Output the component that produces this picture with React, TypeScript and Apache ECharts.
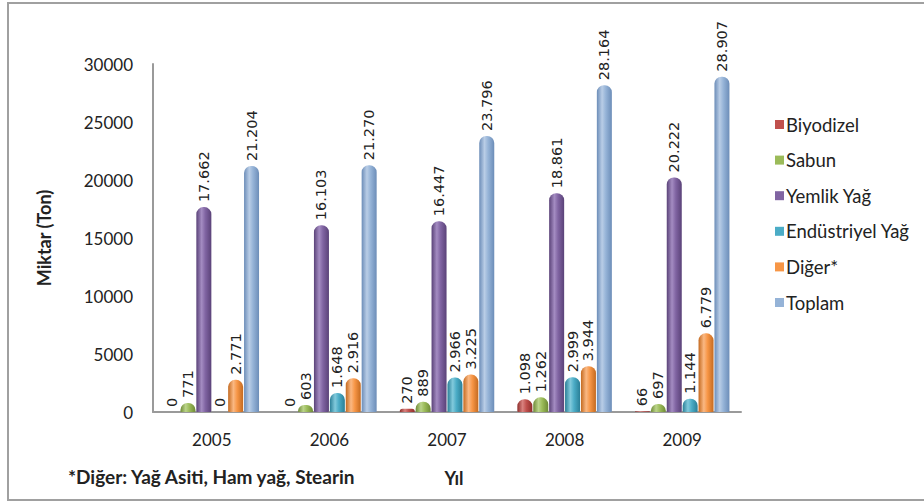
import React, { useEffect, useRef } from "react";
import * as echarts from "echarts";

const years = ["2005", "2006", "2007", "2008", "2009"];
const biyodizel = [0, 0, 270, 1098, 66];
const sabun = [771, 603, 889, 1262, 697];
const yemlik = [17662, 16103, 16447, 18861, 20222];
const endustriyel = [0, 1648, 2966, 2999, 1144];
const diger = [2771, 2916, 3225, 3944, 6779];
const toplam = [21204, 21270, 23796, 28164, 28907];

const seriesDefs = [
  { name: "Biyodizel", data: biyodizel, color: "#C0504D", dark: "#8E2E2B", light: "#D9827F" },
  { name: "Sabun", data: sabun, color: "#9BBB59", dark: "#6E8A36", light: "#BBD48A" },
  { name: "Yemlik Yağ", data: yemlik, color: "#8064A2", dark: "#5A4278", light: "#A48CC2" },
  { name: "Endüstriyel Yağ", data: endustriyel, color: "#4BACC6", dark: "#2A7F97", light: "#82CADC" },
  { name: "Diğer*", data: diger, color: "#F79646", dark: "#C46A20", light: "#FAB883" },
  { name: "Toplam", data: toplam, color: "#95B3D7", dark: "#6C8DB8", light: "#B9CDE6" },
];

function fmt(v: number): string {
  return v.toString().replace(/\B(?=(\d{3})+(?!\d))/g, ".");
}

export default function App() {
  const ref = useRef<HTMLDivElement>(null);
  useEffect(() => {
    if (!ref.current) return;
    const chart = echarts.init(ref.current, null, { renderer: "svg" });
    const font = "Lato, 'Open Sans', sans-serif";
    chart.setOption({
      animation: false,
      backgroundColor: "#ffffff",
      grid: { left: 153, right: 183, top: 64, bottom: 90, containLabel: false },
      legend: {
        orient: "vertical",
        left: 770,
        top: 110,
        itemWidth: 9,
        itemHeight: 9,
        itemGap: 16.6,
        icon: "rect",
        textStyle: { fontFamily: font, fontSize: 18.5, color: "#222", lineHeight: 18, padding: [0, 0, 0, -3] },
        data: seriesDefs.map((s) => ({ name: s.name, itemStyle: { color: s.color } })),
      },
      xAxis: {
        type: "category",
        data: years,
        name: "Yıl",
        nameLocation: "middle",
        nameGap: 57,
        nameTextStyle: { fontFamily: font, fontSize: 18, fontWeight: "bold", color: "#222", padding: [0, 0, 0, 14] },
        axisLine: { lineStyle: { color: "#9a9a9a", width: 2 } },
        axisTick: { show: false },
        axisLabel: { fontFamily: font, fontSize: 17, color: "#222", margin: 19 },
      },
      yAxis: {
        type: "value",
        min: 0,
        max: 30000,
        interval: 5000,
        name: "Miktar (Ton)",
        nameLocation: "middle",
        nameGap: 100,
        nameTextStyle: { fontFamily: font, fontSize: 18, fontWeight: "bold", color: "#222" },
        axisLine: { show: true, lineStyle: { color: "#9a9a9a", width: 2 } },
        axisTick: { show: false },
        splitLine: { show: false },
        axisLabel: { fontFamily: font, fontSize: 17, color: "#222", margin: 20, formatter: (v: number) => String(v) },
      },
      series: seriesDefs.map((s) => ({
        name: s.name,
        type: "bar",
        data: s.data,
        barWidth: 15,
        barGap: "6%",
        itemStyle: {
          borderRadius: [7, 7, 1, 1],
          color: new echarts.graphic.LinearGradient(0, 0, 1, 0, [
            { offset: 0, color: s.dark },
            { offset: 0.35, color: s.light },
            { offset: 0.6, color: s.color },
            { offset: 1, color: s.dark },
          ]),
        },
        label: {
          show: true,
          position: "top",
          rotate: 90,
          align: "left",
          verticalAlign: "middle",
          distance: 5,
          fontFamily: "'DejaVu Sans', sans-serif",
          fontSize: 14.5,
          color: "#222",
          formatter: (p: any) => fmt(p.value),
        },
      })),
      graphic: [
        {
          type: "rect",
          shape: { x: 8, y: 3, width: 930, height: 497 },
          style: { fill: "none", stroke: "#a0a0a0", lineWidth: 2 },
          silent: true,
        },
        {
          type: "text",
          left: 68,
          top: 467,
          style: {
            text: "*Diğer: Yağ Asiti, Ham yağ, Stearin",
            fontFamily: font,
            fontSize: 19,
            fontWeight: "bold",
            fill: "#222",
          },
        },
      ],
    });
    return () => chart.dispose();
  }, []);
  return (
    <div
      ref={ref}
      style={{ position: "fixed", left: 0, top: 0, width: 924, height: 502 }}
    />
  );
}
